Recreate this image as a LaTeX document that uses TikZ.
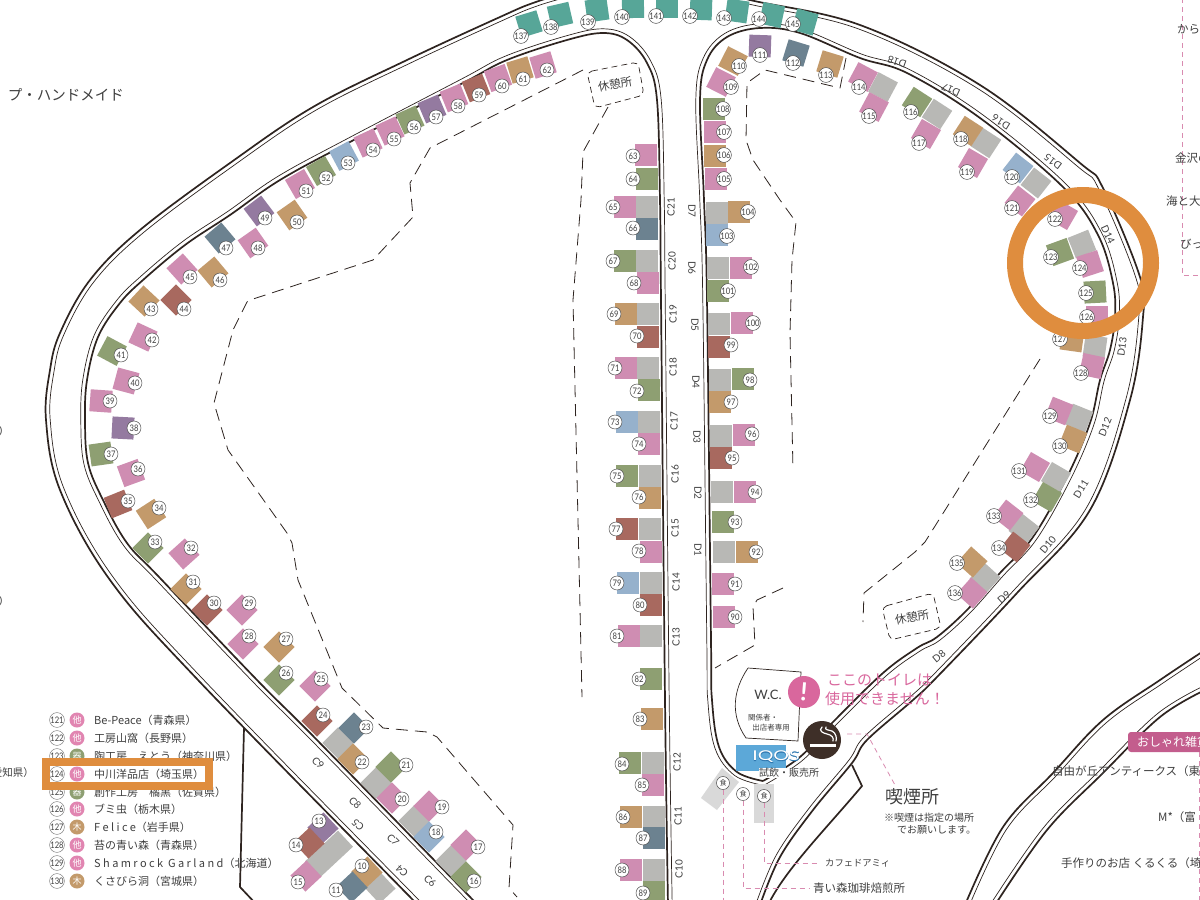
\documentclass[tikz,border=0pt]{standalone}
\usepackage{fontspec}
\setmainfont{Noto Sans CJK JP}
\newfontfamily\latf{Lato}
\newfontfamily\numf[FakeStretch=0.85]{Lato}
\newfontfamily\iqa[FakeStretch=1.45,FakeBold=3.5]{Lato}
\newfontfamily\iqb[FakeStretch=1.45]{Lato}
\definecolor{bpink}{HTML}{CF8DB2}
\definecolor{bgreen}{HTML}{8E9F72}
\definecolor{btan}{HTML}{C39A6B}
\definecolor{bbrick}{HTML}{A8695F}
\definecolor{bslate}{HTML}{6C8290}
\definecolor{bpurple}{HTML}{947AA0}
\definecolor{bblue}{HTML}{96B1CC}
\definecolor{bteal}{HTML}{57A698}
\definecolor{bgrey}{HTML}{B8B8B5}
\definecolor{ink}{HTML}{2E2420}
\definecolor{txt}{HTML}{3F3F3F}
\definecolor{hot}{HTML}{D9679D}
\definecolor{ring}{HTML}{DF8D3E}
\definecolor{dpink}{HTML}{D98BB0}
\definecolor{iqblue}{HTML}{5CA8D8}
\definecolor{iqline}{HTML}{2F78B0}
\definecolor{smokebg}{HTML}{3E2F28}
\tikzset{
  thickroad/.style={draw=ink,line width=1.7pt},
  thinroad/.style={draw=ink,line width=0.7pt},
  numtag/.style={circle,draw=txt,line width=0.45pt,fill=white,minimum size=14pt,inner sep=0pt,text=txt,font=\numf\fontsize{9}{9}\selectfont},
  dashline/.style={draw=ink,line width=0.8pt,dash pattern=on 12pt off 7pt},
  dashbox/.style={draw=ink,line width=0.7pt,dash pattern=on 6pt off 4pt,rounded corners=5pt},
  roadlabel/.style={text=txt,inner sep=0pt,font=\latf\fontsize{10}{11}\selectfont},
  pinkdash/.style={draw=dpink,line width=0.8pt,dash pattern=on 5pt off 4pt},
  maptext/.style={text=txt,inner sep=0pt,font=\fontsize{11.5}{12}\selectfont},
  kindtag/.style={circle,minimum size=15pt,inner sep=0pt,text=white,font=\fontsize{9}{9}\selectfont},
  foodtag/.style={circle,draw=txt,line width=0.45pt,fill=white,minimum size=13pt,inner sep=0pt,text=txt,font=\fontsize{7}{7}\selectfont},
}
% road: thick line through the points, thin line offset to the left of travel by #1
\newcommand\rd[2]{%
  \foreach \px/\py [count=\ii] in {#2} {%
    \expandafter\xdef\csname rdx\ii\endcsname{\px}%
    \expandafter\xdef\csname rdy\ii\endcsname{\py}%
    \xdef\rdn{\ii}}%
  \gdef\rdthick{}\gdef\rdthin{}%
  \foreach \ii in {1,...,\rdn} {%
    \pgfmathtruncatemacro\ia{max(\ii-1,1)}%
    \pgfmathtruncatemacro\ib{min(\ii+1,\rdn)}%
    \pgfmathsetmacro\dx{\csname rdx\ib\endcsname-(\csname rdx\ia\endcsname)}%
    \pgfmathsetmacro\dy{\csname rdy\ib\endcsname-(\csname rdy\ia\endcsname)}%
    \pgfmathsetmacro\dl{veclen(\dx,\dy)}%
    \pgfmathsetmacro\ox{\csname rdx\ii\endcsname+#1*\dy/\dl}%
    \pgfmathsetmacro\oy{\csname rdy\ii\endcsname-#1*\dx/\dl}%
    \xdef\rdthin{\rdthin (\ox,\oy)}%
    \xdef\rdthick{\rdthick (\csname rdx\ii\endcsname,\csname rdy\ii\endcsname)}}%
  \edef\rdgo{\noexpand\draw[thickroad] plot[smooth,tension=.6] coordinates {\rdthick};
    \noexpand\draw[thinroad] plot[smooth,tension=.6] coordinates {\rdthin};}%
  \rdgo}
% cx cy rot colour number lx ly
\newcommand\bth[7]{%
  \fill[#4,shift={(#1,#2)},rotate=#3] (-11,-11) rectangle (11,11);
  \node[numtag] (n#5) at (#6,#7) {#5};}
\newcommand\gb[3]{\fill[bgrey,shift={(#1,#2)},rotate=#3] (-11,-11) rectangle (11,11);}
\newcommand\rl[4]{\node[roadlabel,rotate=#4] (r#3) at (#1,#2) {#3};}
\newcommand\lst[5]{%
  \node[numtag,minimum size=13pt,draw=txt!70] (l#2) at (57,#1) {#2};
  \node[kindtag,fill=#4] (k#2) at (77,#1) {#3};
  \node[maptext,anchor=west,font=\fontsize{11}{12}\selectfont] (t#2) at (94,#1) {#5};}
\begin{document}
\begin{tikzpicture}[x=1pt,y=-1pt]
\clip (0,0) rectangle (1200,900);
\fill[white] (0,0) rectangle (1200,900);
% ---------- roads
\rd{-4.2}{668/905,665/700,661/300,660/200,657/100,647/63,627/40,603/33,567/40,507/60,463/83,350/142,280/180,230/215,185/245,143/280,120/303,98/337,87/380,85/420,88/463,103/500,127/543,160/578,257/680,317/740,473/900,478/905}
\rd{4.2}{763/781,737/772,719/747,712/700,711/640,707/300,704/200,700/100,707/60,727/37,760/28,800/33,860/58,907/73,980/118,1063/187,1098/235,1113/283,1115/317,1110/350,1100/380,1090/423,1067/477,1033/537,1000/573,967/610,937/637,917/648,883/673,833/722,800/757,763/781}
\rd{-4.2}{418/905,413/900,198/680,110/580,60/490,46/420,50/370,60/333,90/280,140/230,230/163,313/107,407/60,500/17,533/3,570/-8,640/-25,710/-12,750/0,860/25,980/85,1080/163,1103/188,1140/277,1143/317,1130/400,1090/510,1017/593,937/677,913/700,867/740,852/763,813/810,780/857,760/905}
\rd{-4.2}{965/905,1003/827,1053/773,1103/720,1160/680,1205/650}
\rd{4.2}{995/905,1047/830,1103/773,1160/717,1205/690}
\draw[thickroad] (852,765) -- (862,786) .. controls (825,830) and (785,870) .. (768,905);
\draw[thickroad] (244,728) -- (240,887) -- (257,905);
% ---------- dashed areas
\draw[dashline] (583,70) -- (430,148) -- (410,183) -- (413,217) -- (373,260) -- (250,300) -- (247,302) -- (233,330) -- (214,403) -- (228,450) -- (287,533) -- (292,543) -- (298,580) -- (342,688) -- (383,728) -- (427,732) -- (437,737) -- (513,825) -- (509,888) -- (517,897);
\draw[dashline] (608,107) -- (583,152) -- (581,200) -- (573,300) -- (582,697);
\draw[dashline] (846,58) -- (840,88) -- (765,70) -- (747,83) -- (746,140) -- (753,160) -- (780,200) -- (796,222) -- (792,260) -- (790,333) -- (793,470);
\draw[dashline] (1040,359) -- (925,542) -- (915,552) -- (864,593) -- (863,622);
\draw[dashline] (783,588) -- (757,600) -- (753,607) -- (755,645) -- (715,668);
\draw[dashbox] (587,72) -- (638,62) -- (644,95) -- (595,108) -- cycle;
\draw[dashbox] (882,607) -- (933,593) -- (941,628) -- (890,640) -- cycle;
\node[maptext,rotate=10] (restA) at (615,84) {休憩所};
\node[maptext,rotate=10] (restB) at (912,617) {休憩所};
% ---------- top teal row
\bth{529}{24}{17}{bteal}{137}{521}{36}
\bth{560}{15}{13}{bteal}{138}{551}{27}
\bth{597}{10}{8}{bteal}{139}{588}{22}
\bth{633}{7}{1}{bteal}{140}{622}{17}
\bth{667}{7}{0}{bteal}{141}{656}{16}
\bth{701}{9}{-2}{bteal}{142}{690}{16}
\bth{737}{11}{-8}{bteal}{143}{724}{18}
\bth{772}{15}{-12}{bteal}{144}{759}{19}
\bth{805}{22}{-16}{bteal}{145}{793}{24}
% ---------- left arc
\bth{543}{65}{17}{bpink}{62}{547}{70}
\bth{520}{70}{17}{btan}{61}{523}{79}
\bth{498}{78}{20}{bpink}{60}{502}{86}
\bth{476}{88}{22}{bbrick}{59}{479}{95}
\bth{454}{98}{22}{bpink}{58}{458}{106}
\bth{432}{109}{23}{bpurple}{57}{436}{117}
\bth{410}{120}{24}{bgreen}{56}{414}{127}
\bth{390}{131}{25}{bpink}{55}{394}{139}
\bth{368}{143}{25}{bpink}{54}{373}{150}
\bth{344}{156}{28}{bblue}{53}{348}{163}
\bth{321}{171}{30}{bgreen}{52}{326}{178}
\bth{300}{184}{30}{bpink}{51}{306}{191}
\bth{292}{215}{35}{btan}{50}{297}{222}
\bth{259}{211}{37}{bpurple}{49}{265}{218}
\bth{253}{243}{35}{bpink}{48}{258}{248}
\bth{220}{238}{40}{bslate}{47}{226}{248}
\bth{213}{272}{40}{btan}{46}{220}{280}
\bth{182}{269}{42}{bpink}{45}{190}{277}
\bth{176}{300}{45}{bbrick}{44}{184}{309}
\bth{144}{301}{47}{btan}{43}{151}{309}
\bth{143}{337}{-25}{bpink}{42}{152}{340}
\bth{112}{351}{-28}{bgreen}{41}{121}{355}
\bth{126}{381}{-15}{bpink}{40}{135}{383}
\bth{101}{401}{-4}{bpink}{39}{110}{401}
\bth{123}{428}{-3}{bpurple}{38}{134}{428}
\bth{101}{454}{8}{bgreen}{37}{111}{454}
\bth{131}{473}{20}{bpink}{36}{138}{469}
\bth{118}{504}{22}{bbrick}{35}{128}{501}
\bth{151}{514}{33}{btan}{34}{159}{508}
\bth{148}{548}{45}{bgreen}{33}{155}{542}
\bth{184}{554}{42}{bpink}{32}{191}{548}
\bth{186}{589}{45}{btan}{31}{193}{582}
\bth{207}{610}{45}{bbrick}{30}{214}{603}
\bth{242}{610}{45}{bpink}{29}{249}{603}
\bth{243}{644}{45}{bpink}{28}{249}{636}
\bth{279}{647}{45}{btan}{27}{286}{639}
\bth{279}{680}{45}{bgreen}{26}{286}{673}
\bth{315}{686}{45}{bpink}{25}{321}{679}
\bth{317}{721}{45}{bbrick}{24}{323}{715}
\gb{338}{743}{45}
\bth{354}{728}{45}{bslate}{23}{366}{727}
\bth{353}{759}{45}{btan}{22}{362}{762}
\gb{376}{783}{45}
\bth{391}{767}{45}{bgreen}{21}{406}{765}
\bth{392}{798}{45}{bpink}{20}{402}{799}
\gb{414}{821}{45}
\bth{429}{806}{45}{bpink}{19}{442}{807}
\bth{429}{837}{45}{bblue}{18}{436}{832}
\gb{451}{861}{45}
\bth{466}{845}{45}{bpink}{17}{478}{847}
\bth{466}{877}{45}{bgreen}{16}{474}{881}
% lower-left block
\fill[bgrey,shift={(329,854)},rotate=43] (-22.5,-11) rectangle (22.5,11);
\bth{323}{828}{43}{bpurple}{13}{319}{821}
\bth{309}{843}{43}{bbrick}{14}{296}{845}
\bth{306}{876}{43}{bpink}{15}{298}{882}
\gb{380}{888}{43}
\bth{367}{872}{43}{btan}{10}{362}{866}
\bth{352}{887}{43}{bslate}{11}{336}{890}
% ---------- C column
\bth{646}{155}{0}{bpink}{63}{633}{156}
\bth{647}{179}{0}{bgreen}{64}{633}{179}
\gb{647}{207}{0}
\bth{625}{207}{0}{bpink}{65}{613}{207}
\bth{647}{229}{0}{bslate}{66}{633}{228}
\gb{647}{261}{0}
\bth{625}{261}{0}{bgreen}{67}{613}{261}
\bth{648}{283}{0}{bpink}{68}{634}{283}
\gb{648}{314}{0}
\bth{626}{314}{0}{btan}{69}{614}{314}
\bth{648}{337}{0}{bbrick}{70}{637}{336}
\gb{648}{368}{0}
\bth{626}{368}{0}{bpink}{71}{615}{368}
\bth{649}{390}{0}{bgreen}{72}{637}{391}
\gb{649}{422}{0}
\bth{627}{422}{0}{bblue}{73}{615}{422}
\bth{649}{444}{0}{bpink}{74}{639}{444}
\gb{650}{476}{0}
\bth{627}{476}{0}{bgreen}{75}{617}{476}
\bth{650}{498}{0}{btan}{76}{639}{497}
\gb{650}{529}{0}
\bth{627}{529}{0}{bbrick}{77}{616}{529}
\bth{651}{552}{0}{bpink}{78}{639}{551}
\gb{651}{583}{0}
\bth{628}{583}{0}{bblue}{79}{617}{583}
\bth{651}{605}{0}{bbrick}{80}{640}{605}
\gb{651}{636}{0}
\bth{629}{636}{0}{bpink}{81}{617}{636}
\bth{651}{679}{0}{bgreen}{82}{639}{679}
\bth{652}{719}{0}{btan}{83}{640}{719}
\gb{653}{763}{0}
\bth{630}{763}{0}{bgreen}{84}{622}{764}
\bth{653}{785}{0}{bpink}{85}{642}{785}
\gb{654}{817}{0}
\bth{631}{817}{0}{btan}{86}{623}{817}
\bth{654}{838}{0}{bslate}{87}{643}{838}
\gb{654}{870}{0}
\bth{631}{870}{0}{bpink}{88}{622}{870}
\bth{654}{892}{0}{bgreen}{89}{643}{893}
% ---------- D column
\bth{724}{617}{0}{bpink}{90}{735}{617}
\bth{723}{584}{0}{bpink}{91}{735}{584}
\gb{724}{552}{0}
\bth{747}{552}{0}{btan}{92}{756}{552}
\bth{723}{522}{0}{bgreen}{93}{735}{522}
\gb{722}{492}{0}
\bth{745}{492}{0}{bpink}{94}{755}{492}
\gb{721}{436}{0}
\bth{721}{458}{0}{bbrick}{95}{732}{458}
\bth{744}{435}{0}{bpink}{96}{752}{434}
\gb{720}{380}{0}
\bth{720}{402}{0}{btan}{97}{731}{402}
\bth{743}{379}{0}{bgreen}{98}{750}{380}
\gb{719}{324}{0}
\bth{719}{347}{0}{bbrick}{99}{731}{345}
\bth{742}{323}{0}{bpink}{100}{753}{323}
\gb{718}{268}{0}
\bth{718}{291}{0}{bgreen}{101}{728}{291}
\bth{741}{268}{0}{bpink}{102}{751}{267}
\gb{717}{213}{0}
\bth{717}{235}{0}{bblue}{103}{727}{236}
\bth{739}{212}{0}{btan}{104}{748}{212}
\bth{716}{179}{0}{bpink}{105}{724}{179}
\bth{715}{156}{0}{btan}{106}{724}{155}
\bth{715}{132}{0}{bpink}{107}{724}{132}
\bth{714}{109}{0}{bgreen}{108}{723}{109}
\bth{721}{82}{-27}{bpink}{109}{731}{87}
\bth{733}{61}{-27}{btan}{110}{739}{66}
\bth{760}{46}{-2}{bpurple}{111}{760}{55}
\bth{796}{53}{-17}{bslate}{112}{793}{63}
\bth{830}{64}{-17}{btan}{113}{826}{75}
% ---------- right arc
\gb{883}{87}{-28}
\bth{863}{77}{-28}{bpink}{114}{859}{87}
\bth{874}{107}{-28}{bpink}{115}{869}{116}
\gb{937}{114}{-33}
\bth{917}{102}{-33}{bgreen}{116}{911}{112}
\bth{926}{134}{-30}{bpink}{117}{919}{143}
\gb{986}{143}{-33}
\bth{968}{131}{-33}{btan}{118}{961}{139}
\bth{973}{163}{-30}{bpink}{119}{967}{172}
\gb{1036}{183}{-38}
\bth{1018}{168}{-38}{bblue}{120}{1012}{177}
\bth{1020}{201}{-38}{bpink}{121}{1012}{208}
\bth{1063}{215}{-30}{bpink}{122}{1055}{219}
\gb{1082}{244}{22}
\bth{1060}{252}{20}{bgreen}{123}{1051}{257}
\bth{1090}{264}{18}{bpink}{124}{1080}{268}
\bth{1095}{292}{3}{bgreen}{125}{1086}{293}
\bth{1097}{317}{0}{bpink}{126}{1087}{317}
\gb{1095}{347}{-8}
\bth{1072}{340}{-8}{btan}{127}{1060}{339}
\bth{1092}{366}{-12}{bpink}{128}{1081}{373}
\gb{1079}{418}{-22}
\bth{1059}{411}{-22}{bpink}{129}{1050}{416}
\bth{1073}{439}{-22}{btan}{130}{1060}{446}
\gb{1056}{477}{-30}
\bth{1035}{467}{-30}{bpink}{131}{1019}{471}
\bth{1047}{497}{-30}{bgreen}{132}{1031}{500}
\gb{1024}{529}{-38}
\bth{1008}{515}{-38}{bpink}{133}{994}{516}
\bth{1015}{547}{-38}{bbrick}{134}{999}{548}
\gb{985}{578}{-42}
\bth{972}{562}{-42}{btan}{135}{957}{563}
\bth{972}{593}{-42}{bpink}{136}{955}{593}
% ---------- road labels
\rl{671}{207}{C21}{90}\rl{672}{261}{C20}{90}\rl{673}{314}{C19}{90}\rl{673}{367}{C18}{90}
\rl{674}{421}{C17}{90}\rl{675}{474}{C16}{90}\rl{675}{528}{C15}{90}\rl{676}{582}{C14}{90}
\rl{676}{637}{C13}{90}\rl{677}{762}{C12}{90}\rl{678}{816}{C11}{90}\rl{679}{869}{C10}{90}
\rl{692}{211}{D7}{-90}\rl{692}{268}{D6}{-90}\rl{695}{325}{D5}{-90}\rl{696}{382}{D4}{-90}
\rl{697}{437}{D3}{-90}\rl{698}{493}{D2}{-90}\rl{698}{550}{D1}{-90}
\rl{939}{656}{D8}{40}\rl{1004}{597}{D9}{42}\rl{1048}{545}{D10}{50}\rl{1081}{489}{D11}{58}
\rl{1105}{427}{D12}{68}\rl{1122}{347}{D13}{83}\rl{1108}{235}{D14}{-65}
\rl{1053}{162}{D15}{143}\rl{1001}{122}{D16}{148}\rl{951}{90}{D17}{155}\rl{897}{62}{D18}{160}
\rl{318}{763}{C9}{-45}\rl{355}{803}{C8}{-45}\rl{393}{840}{C7}{-45}\rl{430}{881}{C6}{-45}
\rl{358}{825}{C5}{135}\rl{402}{871}{C4}{135}
% ---------- legend list
\lst{720}{121}{他}{hot!80}{Be-Peace（青森県）}
\lst{738}{122}{他}{hot!80}{工房山窩（長野県）}
\lst{756}{123}{器}{bgreen}{陶工房　えとう（神奈川県）}
\lst{774}{124}{他}{hot!80}{中川洋品店（埼玉県）}
\lst{792}{125}{器}{bgreen}{創作工房　橘黒（佐賀県）}
\lst{809}{126}{他}{hot!80}{ブミ虫（栃木県）}
\lst{827}{127}{木}{btan}{\addfontfeature{LetterSpace=22}Felice\addfontfeature{LetterSpace=0}（岩手県）}
\lst{845}{128}{他}{hot!80}{苔の青い森（青森県）}
\lst{863}{129}{他}{hot!80}{\addfontfeature{LetterSpace=22}Shamrock Garland\addfontfeature{LetterSpace=0}（北海道）}
\lst{881}{130}{木}{btan}{くさびら洞（宮城県）}
\draw[ring,line width=8pt] (46,761.5) rectangle (209,786);
% ---------- clipped text at the edges
\node[maptext,anchor=east,font=\fontsize{14.5}{15}\selectfont] (hm) at (124,95) {プ・ハンドメイド};
\node[maptext,anchor=east] (e1) at (10,431) {）};
\node[maptext,anchor=east] (e2) at (10,601) {）};
\node[maptext,anchor=east,font=\fontsize{10.5}{11}\selectfont] (e3) at (34,773) {愛知県）};
% ---------- WC, IQOS
\draw[ink,line width=0.7pt] (748,668) -- (801,672) -- (798,741) -- (746,738) .. controls (730,715) and (733,690) .. (748,668);
\node[maptext,font=\latf\fontsize{13}{14}\selectfont] (wc) at (768,695) {W.C.};
\node[maptext,font=\fontsize{7.5}{8}\selectfont] (wc1) at (763,718) {関係者・};
\node[maptext,font=\fontsize{7.5}{8}\selectfont] (wc2) at (771,728) {出店者専用};
\node[circle,fill=hot,minimum size=32pt,inner sep=0pt,text=white,font=\latf\bfseries\fontsize{25}{25}\selectfont,rotate=-5] (warn) at (804,692) {!};
\node[anchor=west,text=hot,inner sep=0pt,font=\fontsize{15}{16}\selectfont] (w1) at (827,680) {ここのトイレは};
\node[anchor=west,text=hot,inner sep=0pt,font=\fontsize{15}{16}\selectfont] (w2) at (825,699) {使用できません！};
\fill[iqblue] (736,745) rectangle (786,771);
\node[maptext,fill=white,inner sep=0.5pt,font=\fontsize{10}{11}\selectfont] (iqt) at (789,773) {試飲・販売所};
\node[circle,fill=smokebg,minimum size=38pt,inner sep=0pt] (smoke) at (822,740) {};
\node[inner sep=0pt,text=iqline,font=\iqa\fontsize{13.5}{14}\selectfont] (iqosa) at (776,757) {IQOS};
\node[inner sep=0pt,text=white,font=\iqb\fontsize{13.5}{14}\selectfont] (iqos) at (776,757) {IQOS};
\fill[white] (810,743.5) rectangle (836,747);
\draw[white,line width=1.2pt,line cap=round] (822,727) .. controls (818,731) and (823,733) .. (827,734) .. controls (832,735) and (834,738) .. (833,741);
\draw[white,line width=1.2pt,line cap=round] (826,727) .. controls (824,730) and (829,730) .. (832,731) .. controls (836,733) and (837,738) .. (836,741);
\node[maptext,font=\fontsize{18}{19}\selectfont] (smk) at (912,797) {喫煙所};
\node[maptext,anchor=west,font=\fontsize{10}{11}\selectfont] (smk1) at (884,818) {※喫煙は指定の場所};
\node[maptext,anchor=west,font=\fontsize{10}{11}\selectfont] (smk2) at (897,830) {でお願いします。};
\coordinate (sa) at (847,734);
\coordinate (sb) at (867,734);
\coordinate (sc) at (895,785);
\draw[pinkdash] (sa) -- (sb) -- (sc);
% ---------- food stands
\fill[gray!30] (722,768) -- (739,782) -- (717,810) -- (701,798) -- cycle;
\fill[gray!30] (754,784) rectangle (774,823);
\node[foodtag] (fa) at (723,783) {食};
\node[foodtag] (fb) at (743,794) {食};
\node[foodtag] (fc) at (764,796) {食};
\node[maptext,anchor=west,font=\fontsize{9.3}{10}\selectfont] (tc) at (825,863) {カフェドアミィ};
\node[maptext,anchor=west] (tb) at (813,888) {青い森珈琲焙煎所};
\coordinate (ea) at (723,905);
\draw[pinkdash] (fa) -- (ea);
\draw[pinkdash] (fb) |- ([xshift=-3pt]tb.west);
\draw[pinkdash] (fc) |- ([xshift=-6pt]tc.west);
% ---------- right edge
\coordinate (pa) at (1182,-2);
\coordinate (pb) at (1182,275);
\coordinate (pc) at (1202,275);
\draw[pinkdash] (pa) -- (pb) -- (pc);
\node[maptext,anchor=west] (x1) at (1177,29) {からみ};
\node[maptext,anchor=west] (x2) at (1175,158) {金沢の};
\node[maptext,anchor=west] (x3) at (1166,201) {海と大地};
\node[maptext,anchor=west] (x4) at (1180,244) {びっく};
\fill[rounded corners=3pt,fill=hot!90!black] (1128,732) rectangle (1210,752);
\node[anchor=west,text=white,inner sep=0pt,font=\fontsize{12}{13}\selectfont] (tag) at (1137,742) {おしゃれ雑貨};
\coordinate (pd) at (1199,752);
\coordinate (pe) at (1199,905);
\draw[pinkdash] (pd) -- (pe);
\node[maptext,anchor=west] (y1) at (1052,771) {自由が丘アンティークス（東};
\node[maptext,anchor=west] (y2) at (1158,817) {M*（富};
\node[maptext,anchor=west] (y3) at (1061,863) {手作りのお店 くるくる（埼};
% ---------- orange highlight
\draw[ring,line width=16pt] (1083,263) circle (68);
\end{tikzpicture}
\end{document}
